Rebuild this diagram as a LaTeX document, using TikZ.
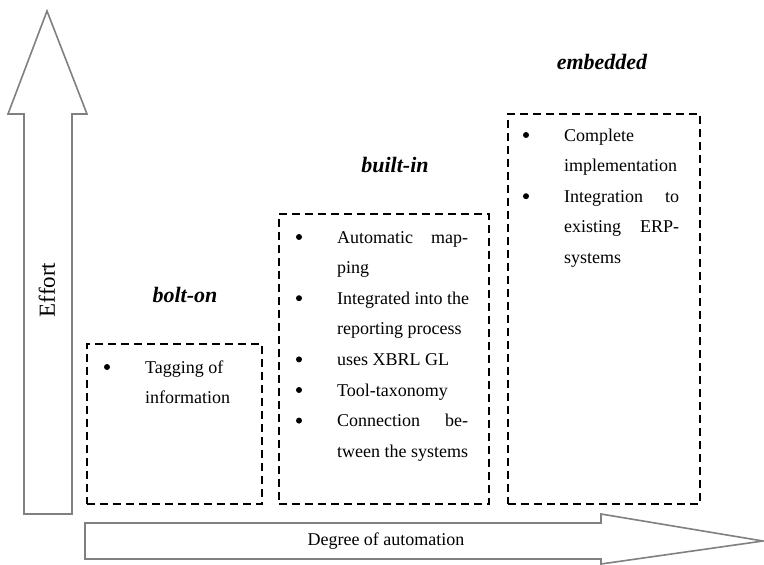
\documentclass[tikz,border=0pt]{standalone}
\usepackage{fontspec}
\setmainfont{Liberation Serif}

\tikzset{
  grayarrow/.style={draw=black!50, line width=1.6pt, fill=white, line join=miter},
  stagebox/.style={draw, line width=1.8pt, dash pattern=on 8pt off 5pt,
    inner sep=0pt, anchor=north west},
  stagetitle/.style={font=\fontsize{22}{26}\selectfont\bfseries\itshape, anchor=base},
  itemtext/.style={font=\fontsize{18}{22}\selectfont, anchor=base west, inner sep=0pt},
  itembullet/.style={circle, fill, inner sep=0pt, minimum size=6pt},
}
% justified line of a list item
\newcommand{\jline}[2]{\hbox to #1{#2}}
% #1 name, #2 text x, #3 first baseline, #4 bullet/line list
\newcommand{\stageitems}[4]{%
  \foreach \b/\t [count=\i from 0] in {#4} {
    \node[itemtext] (#1-\i) at (#2, #3+30.6*\i) {\t};
    \ifnum\b=1 \node[itembullet] (#1-b\i) at ([xshift=-38pt,yshift=6pt]#1-\i.base west) {};\fi
  }}

\begin{document}
\begin{tikzpicture}[x=1pt,y=-1pt]
  \useasboundingbox (0,0) rectangle (764,565);

  % axes
  \draw[grayarrow] (24,514) -- (24,114) -- (8,114) -- (47,11) -- (87,114)
    -- (72,114) -- (72,514) -- cycle;
  \draw[grayarrow] (85,523) -- (601,523) -- (601,514) -- (763,541)
    -- (601,564) -- (601,559) -- (85,559) -- cycle;
  \node[rotate=90, font=\fontsize{23}{26}\selectfont] (effort) at (47,290) {Effort};
  \node[font=\fontsize{18}{21}\selectfont] (degree) at (386,541) {Degree of automation};

  % stages
  \node[stagebox, minimum width=175pt, minimum height=160pt] (bolton) at (86,343) {};
  \node[stagebox, minimum width=210pt, minimum height=290pt] (builtin) at (278,213) {};
  \node[stagebox, minimum width=192pt, minimum height=390pt] (embedded) at (507,113) {};

  \node[stagetitle] (boltonTitle) at (185,302) {bolt-on};
  \node[stagetitle] (builtinTitle) at (395,172) {built-in};
  \node[stagetitle] (embeddedTitle) at (602,69) {embedded};

  \stageitems{bo}{145}{373}{1/Tagging of, 0/information}
  \stageitems{bi}{337}{243}{1/{\jline{131pt}{Automatic\hfill map-}}, 0/ping,
    1/Integrated into the, 0/reporting process, 1/uses XBRL GL, 1/Tool-taxonomy,
    1/{\jline{131pt}{Connection\hfill be-}}, 0/tween the systems}
  \stageitems{em}{564}{141}{1/Complete, 0/implementation,
    1/{\jline{115pt}{Integration\hfill to}}, 0/{\jline{115pt}{existing\hfill ERP-}},
    0/systems}
\end{tikzpicture}
\end{document}
